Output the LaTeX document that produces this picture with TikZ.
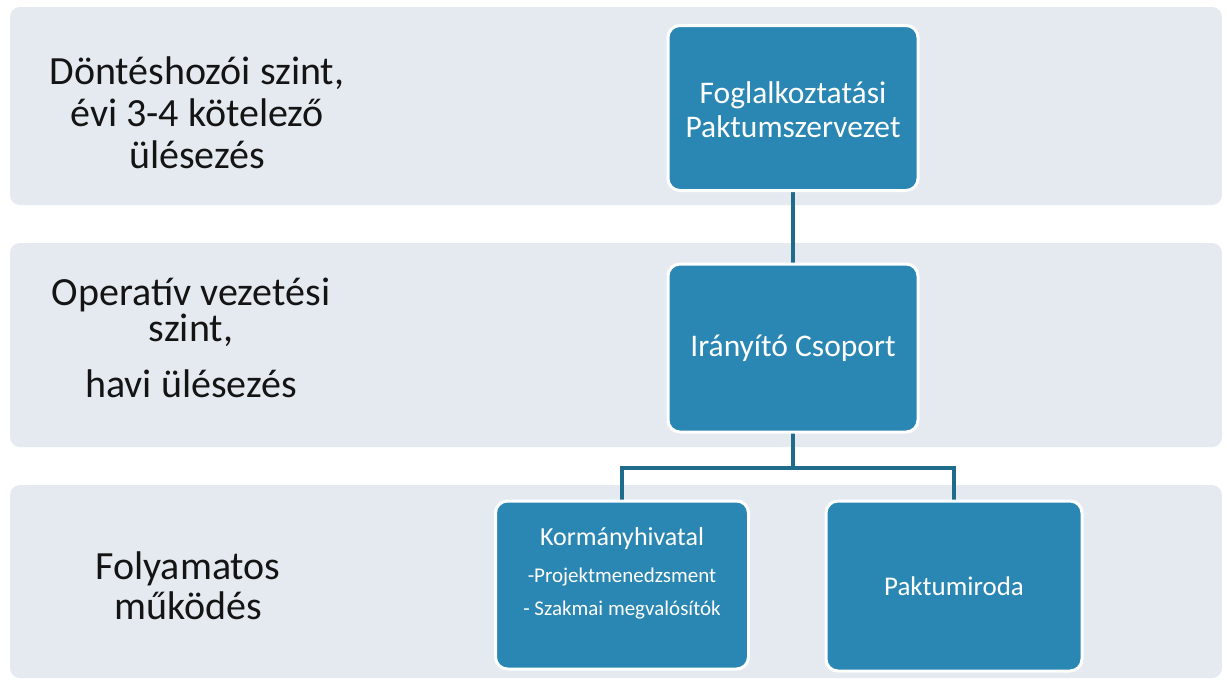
\documentclass[tikz,border=0pt]{standalone}
\usepackage{fontspec}
\setmainfont{Carlito}
\definecolor{bandc}{HTML}{E5EAF1}
\definecolor{boxc}{HTML}{2A86B2}
\definecolor{linec}{HTML}{1F6B8C}
\begin{document}
\begin{tikzpicture}[x=1pt,y=-1pt,
  band/.style={fill=bandc, rounded corners=10pt},
  lvl/.style={align=center, text=black!92},
  box/.style={fill=boxc, draw=white, line width=3pt, rounded corners=12pt},
  btext/.style={text=white, align=center},
  conn/.style={draw=linec, line width=4pt}]
\path[use as bounding box] (0,0) rectangle (1227,681);
\fill[white] (0,0) rectangle (1227,681);
\path[band] (10,7) rectangle (1222,205);
\path[band] (10,243) rectangle (1222,447);
\path[band] (10,485) rectangle (1222,678);
% left labels
\node[lvl, font=\fontsize{40}{42}\selectfont] (l1) at (197,113) {Döntéshozói szint,\\ évi 3-4 kötelező\\ ülésezés};
\node[lvl, font=\fontsize{40}{36}\selectfont] (l2) at (191,338) {Operatív vezetési\\ szint,\\[20pt] havi ülésezés};
\node[lvl, font=\fontsize{40}{40}\selectfont] (l3) at (188,586) {Folyamatos\\ működés};
% connectors
\coordinate (j) at (793,468);
\draw[conn] (793,190) -- (793,265);
\draw[conn] (793,430) -- (j);
\draw[conn] (622,505) |- (j) -| (954,505);
% boxes
\node[box, minimum width=250pt, minimum height=165pt] (b1) at (793,108) {};
\node[btext, font=\fontsize{31.5}{34}\selectfont] (t1) at (793,110) {Foglalkoztatási\\ Paktumszervezet};
\node[box, minimum width=250pt, minimum height=168pt] (b2) at (793,348) {};
\node[btext, font=\fontsize{31.5}{34}\selectfont] (t2) at (b2) {Irányító Csoport};
\node[box, minimum width=253pt, minimum height=168pt] (b3) at (622,585) {};
\node[btext, font=\fontsize{21}{33}\selectfont] (t3) at (622,573) {{\fontsize{26}{30}\selectfont Kormányhivatal}\\[4pt] -Projektmenedzsment\\ - Szakmai megvalósítók};
\node[box, minimum width=256pt, minimum height=170pt] (b4) at (954,586) {};
\node[btext, font=\fontsize{27}{30}\selectfont] (t4) at (b4) {Paktumiroda};
\end{tikzpicture}
\end{document}
